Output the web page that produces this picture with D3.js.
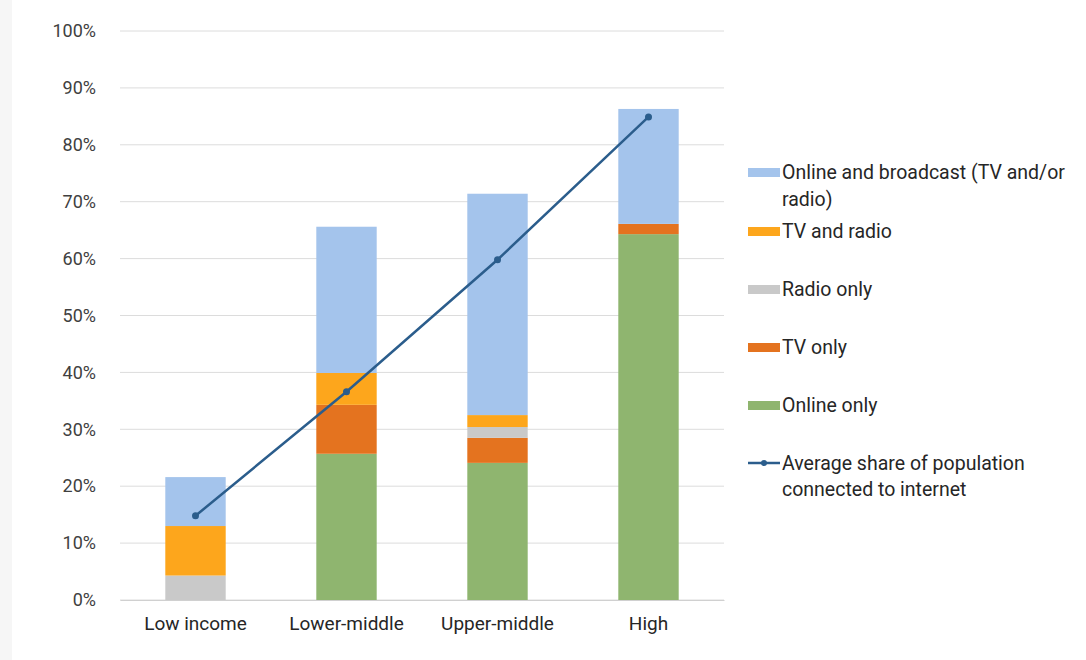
<!DOCTYPE html>
<html lang="en">
<head>
<meta charset="utf-8">
<title>Media access by income group</title>
<script src="https://cdnjs.cloudflare.com/ajax/libs/d3/7.8.5/d3.min.js"></script>
<style>
  body { margin: 0; background: #fff; }
  * { font-family: "Roboto", "Liberation Sans", sans-serif; }
  .grid line { stroke: #dcdcdc; }
  .tick text { fill: #404040; }
</style>
</head>
<body>
<div id="vis"></div>
<script>
var categories = ['Low income', 'Lower-middle', 'Upper-middle', 'High'];

// stacked segments, bottom to top, in percent
var onlineOnly    = [0, 25.7, 24.1, 64.3];
var tvOnly        = [0, 8.6, 4.4, 1.8];
var radioOnly     = [4.3, 0, 1.9, 0];
var tvAndRadio    = [8.7, 5.6, 2.1, 0];
var onlineAndBc   = [8.6, 25.7, 38.9, 20.2];

var internetShare = [14.8, 36.6, 59.8, 84.9];

var yTicks = [0, 10, 20, 30, 40, 50, 60, 70, 80, 90, 100];

var series = [
  { key: 'onlineOnly', name: 'Online only', values: onlineOnly, color: '#8fb56f' },
  { key: 'tvOnly', name: 'TV only', values: tvOnly, color: '#e4731f' },
  { key: 'radioOnly', name: 'Radio only', values: radioOnly, color: '#c9c9c9' },
  { key: 'tvAndRadio', name: 'TV and radio', values: tvAndRadio, color: '#fda61c' },
  { key: 'onlineAndBc', name: 'Online and broadcast (TV and/or radio)', values: onlineAndBc, color: '#a4c4ec' }
];

var width = 1086, height = 660;
var margin = { top: 31, left: 120, right: 362, bottom: 60 };

var svg = d3.select('#vis').append('svg')
  .attr('width', width)
  .attr('height', height);

// faint left strip like the source image
svg.append('rect').attr('x', 0).attr('y', 0).attr('width', 12).attr('height', height).attr('fill', '#f6f6f6');

var x = d3.scaleBand()
  .domain(categories)
  .range([margin.left, width - margin.right])
  .paddingInner(0.6)
  .paddingOuter(0.3);

var y = d3.scaleLinear()
  .domain([0, 100])
  .range([height - margin.bottom, margin.top]);

// gridlines
svg.append('g')
  .attr('class', 'grid')
  .selectAll('line')
  .data(yTicks)
  .enter().append('line')
  .attr('x1', margin.left)
  .attr('x2', width - margin.right)
  .attr('y1', function(d) { return y(d); })
  .attr('y2', function(d) { return y(d); });

// y axis labels
var yAxis = d3.axisLeft(y)
  .tickValues(yTicks)
  .tickFormat(function(d) { return d + '%'; })
  .tickSize(0)
  .tickPadding(24);

svg.append('g')
  .attr('transform', 'translate(' + margin.left + ',0)')
  .call(yAxis)
  .call(function(g) { g.select('.domain').remove(); })
  .selectAll('text')
  .style('font-size', '18px')
  .style('fill', '#404040');

// stacks
var table = categories.map(function(c, i) {
  var row = { cat: c };
  series.forEach(function(s) { row[s.key] = s.values[i]; });
  return row;
});

var stack = d3.stack().keys(series.map(function(s) { return s.key; }));
var stacked = stack(table);

svg.append('g').selectAll('g')
  .data(stacked)
  .enter().append('g')
  .attr('fill', function(d, i) { return series[i].color; })
  .selectAll('rect')
  .data(function(d) { return d; })
  .enter().append('rect')
  .attr('x', function(d) { return x(d.data.cat); })
  .attr('width', x.bandwidth())
  .attr('y', function(d) { return y(d[1]); })
  .attr('height', function(d) { return y(d[0]) - y(d[1]); });

// x axis
var xAxis = d3.axisBottom(x).tickSize(0).tickPadding(17);
svg.append('g')
  .attr('transform', 'translate(0,' + y(0) + ')')
  .call(xAxis)
  .call(function(g) { g.select('.domain').attr('stroke', '#d0d0d0'); })
  .selectAll('text')
  .style('font-size', '19px')
  .style('fill', '#262626');

// line
var line = d3.line()
  .x(function(d, i) { return x(categories[i]) + x.bandwidth() / 2; })
  .y(function(d) { return y(d); });

svg.append('path')
  .datum(internetShare)
  .attr('fill', 'none')
  .attr('stroke', '#2b5d8c')
  .attr('stroke-width', 2.5)
  .attr('d', line);

svg.selectAll('.dot')
  .data(internetShare)
  .enter().append('circle')
  .attr('class', 'dot')
  .attr('cx', function(d, i) { return x(categories[i]) + x.bandwidth() / 2; })
  .attr('cy', function(d) { return y(d); })
  .attr('r', 3.5)
  .attr('fill', '#2b5d8c');

// legend
var legend = svg.append('g').attr('transform', 'translate(748,0)');
var legendItems = [
  { s: series[4], y: 172, lines: ['Online and broadcast (TV and/or', 'radio)'] },
  { s: series[3], y: 231, lines: ['TV and radio'] },
  { s: series[2], y: 289, lines: ['Radio only'] },
  { s: series[1], y: 347, lines: ['TV only'] },
  { s: series[0], y: 405, lines: ['Online only'] }
];

legendItems.forEach(function(it) {
  legend.append('rect')
    .attr('x', 0).attr('y', it.y - 4)
    .attr('width', 32).attr('height', 9)
    .attr('fill', it.s.color);
  var t = legend.append('text')
    .attr('x', 34).attr('y', it.y)
    .style('font-size', '19.5px')
    .style('fill', '#262626');
  it.lines.forEach(function(l, k) {
    t.append('tspan').attr('x', 34).attr('dy', k === 0 ? '0.35em' : '27px').text(l);
  });
});

legend.append('line')
  .attr('x1', 0).attr('x2', 32).attr('y1', 463).attr('y2', 463)
  .attr('stroke', '#2b5d8c').attr('stroke-width', 2.5);
legend.append('circle').attr('cx', 16).attr('cy', 463).attr('r', 3).attr('fill', '#2b5d8c');
var lt = legend.append('text').attr('x', 34).attr('y', 463)
  .style('font-size', '19.5px').style('fill', '#262626');
lt.append('tspan').attr('x', 34).attr('dy', '0.35em').text('Average share of population');
lt.append('tspan').attr('x', 34).attr('dy', '26px').text('connected to internet');
</script>
</body>
</html>
